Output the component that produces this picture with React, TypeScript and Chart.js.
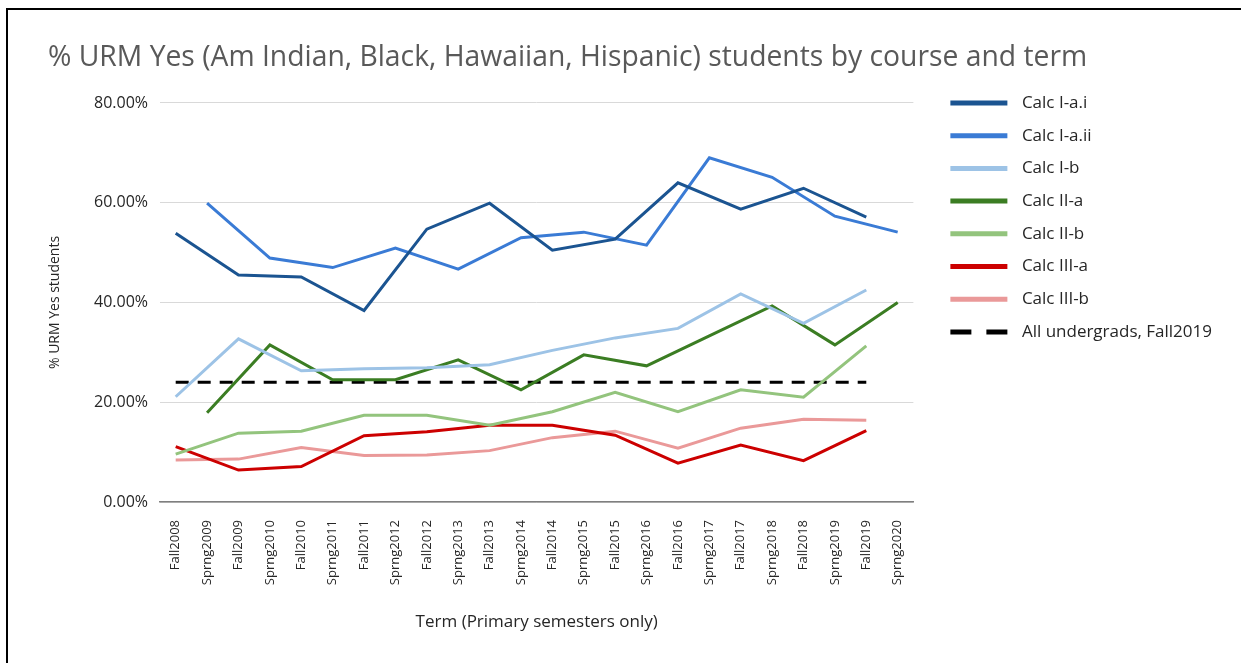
import React, { useEffect, useRef } from "react";
import { Chart, registerables } from "chart.js";

Chart.register(...registerables);

const terms = [
  "Fall2008", "Sprng2009", "Fall2009", "Sprng2010", "Fall2010", "Sprng2011",
  "Fall2011", "Sprng2012", "Fall2012", "Sprng2013", "Fall2013", "Sprng2014",
  "Fall2014", "Sprng2015", "Fall2015", "Sprng2016", "Fall2016", "Sprng2017",
  "Fall2017", "Sprng2018", "Fall2018", "Sprng2019", "Fall2019", "Sprng2020",
];

const calcIai = [53.9, null, 45.5, null, 45.1, null, 38.4, null, 54.7, null, 59.9, null, 50.5, null, 52.7, null, 64.0, null, 58.7, null, 62.9, null, 57.1, null];
const calcIaii = [null, 59.9, null, 48.9, null, 47.0, null, 50.9, null, 46.7, null, 53.0, null, 54.1, null, 51.5, null, 69.0, null, 65.1, null, 57.3, null, 54.1];
const calcIb = [21.1, null, 32.7, null, 26.3, null, 26.7, null, 26.9, null, 27.5, null, 30.4, null, 32.9, null, 34.8, null, 41.7, null, 35.8, null, 42.5, null];
const calcIIa = [null, 17.9, null, 31.5, null, 24.5, null, 24.5, null, 28.5, null, 22.5, null, 29.5, null, 27.3, null, 33.3, null, 39.3, null, 31.5, null, 40.0];
const calcIIb = [9.6, null, 13.8, null, 14.2, null, 17.4, null, 17.4, null, 15.4, null, 18.1, null, 22.0, null, 18.1, null, 22.5, null, 21.0, null, 31.3, null];
const calcIIIa = [11.1, null, 6.4, null, 7.1, null, 13.3, null, 14.1, null, 15.4, null, 15.4, null, 13.4, null, 7.8, null, 11.4, null, 8.3, null, 14.3, null];
const calcIIIb = [8.4, null, 8.6, null, 10.9, null, 9.3, null, 9.4, null, 10.3, null, 12.9, null, 14.2, null, 10.8, null, 14.8, null, 16.6, null, 16.4, null];
const allUndergrads = [24, 24, 24, 24, 24, 24, 24, 24, 24, 24, 24, 24, 24, 24, 24, 24, 24, 24, 24, 24, 24, 24, 24, null];

const seriesNames = ["Calc I-a.i", "Calc I-a.ii", "Calc I-b", "Calc II-a", "Calc II-b", "Calc III-a", "Calc III-b", "All undergrads, Fall2019"];
const seriesColors = ["#1b5491", "#3a7bd5", "#9dc3e6", "#3b7d23", "#93c47d", "#cc0000", "#ea9999", "#000000"];
const seriesData = [calcIai, calcIaii, calcIb, calcIIa, calcIIb, calcIIIa, calcIIIb, allUndergrads];

const yMin = 0;
const yMax = 80;
const yStep = 20;

export default function App() {
  const ref = useRef<HTMLCanvasElement>(null);

  useEffect(() => {
    document.body.style.overflow = "hidden";
    Chart.defaults.font.family = "'Open Sans', sans-serif";
    const datasets = seriesData.map((d, i) => ({
      label: seriesNames[i],
      data: d,
      borderColor: seriesColors[i],
      backgroundColor: seriesColors[i],
      borderWidth: 3,
      borderDash: i === 7 ? [13, 9] : [],
      pointRadius: 0,
      pointHoverRadius: 0,
      spanGaps: true,
      tension: 0,
      fill: false,
    }));

    const chart = new Chart(ref.current as HTMLCanvasElement, {
      type: "line",
      data: { labels: terms, datasets },
      options: {
        responsive: false,
        animation: false,
        layout: { padding: { left: 40, right: 19, top: 0, bottom: 20 } },
        plugins: {
          title: {
            display: true,
            text: "% URM Yes (Am Indian, Black, Hawaiian, Hispanic) students by course and term",
            align: "start",
            color: "#595959",
            font: { size: 28.3, weight: "normal", lineHeight: 1.2 },
            padding: { top: 31, bottom: 28 },
          },
          legend: {
            position: "right",
            align: "start",
            maxWidth: 400,
            title: {
              display: true,
              text: " ",
              font: { size: 10, lineHeight: 1 },
              padding: { top: 58.8, bottom: 0 },
            },
            labels: {
              usePointStyle: true,
              pointStyle: "line",
              pointStyleWidth: 63,
              padding: 15.7,
              color: "#262626",
              font: { size: 17 },
              generateLabels: (c: any) =>
                c.data.datasets.map((ds: any, i: number) => ({
                  text: ds.label,
                  fillStyle: ds.borderColor,
                  strokeStyle: ds.borderColor,
                  fontColor: "#262626",
                  lineWidth: 5,
                  lineDash: i === 7 ? [21, 15, 21, 40] : [57, 40],
                  lineCap: "butt",
                  pointStyle: "line",
                  hidden: false,
                  datasetIndex: i,
                })),
            },
          },
          tooltip: { enabled: false },
        },
        scales: {
          x: {
            type: "category",
            offset: true,
            grid: { display: false, drawTicks: false },
            border: { display: true, color: "#7f7f7f", width: 1.5 },
            ticks: {
              autoSkip: false,
              minRotation: 90,
              maxRotation: 90,
              padding: 18,
              color: "#262626",
              font: { size: 13 },
            },
            title: {
              display: true,
              text: "Term (Primary semesters only)",
              color: "#262626",
              font: { size: 17 },
              padding: { top: 0, bottom: 11 },
            },
            afterFit: (s: any) => {
              s.height = 141;
            },
          },
          y: {
            min: yMin,
            max: yMax,
            ticks: {
              stepSize: yStep,
              padding: 12,
              color: "#262626",
              font: { size: 16 },
              callback: (v: any) => Number(v).toFixed(2) + "%",
            },
            grid: { color: "#d9d9d9", drawTicks: false },
            border: { display: false },
            title: {
              display: true,
              text: "% URM Yes students",
              color: "#262626",
              font: { size: 14, lineHeight: 1 },
              padding: 0,
            },
            afterFit: (s: any) => {
              s.width = 112;
            },
          },
          y2: {
            position: "right",
            grid: { display: false, drawTicks: false },
            border: { display: false },
            ticks: { display: false },
            afterFit: (s: any) => {
              s.width = 21.3;
            },
          },
        },
      } as any,
    });
    return () => chart.destroy();
  }, []);

  return (
    <div
      style={{
        position: "absolute",
        left: 6,
        top: 8,
        borderTop: "2px solid #000",
        borderLeft: "2px solid #000",
        width: 1233,
        height: 653,
        background: "#fff",
      }}
    >
      <canvas ref={ref} width={1233} height={653} style={{ display: "block" }} />
    </div>
  );
}
